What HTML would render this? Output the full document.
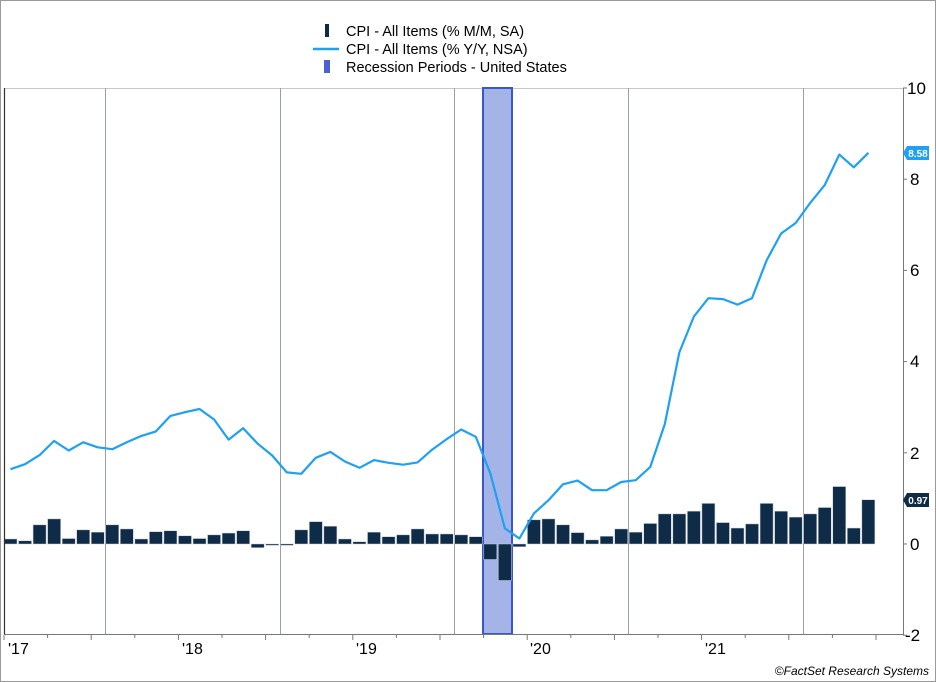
<!DOCTYPE html>
<html><head><meta charset="utf-8"><style>
html,body{margin:0;padding:0;background:#fff;}
svg{display:block;font-family:"Liberation Sans",Arial,sans-serif;}
</style></head><body>
<svg id="c" width="936" height="682" viewBox="0 0 936 682" xmlns="http://www.w3.org/2000/svg">
<rect x="0.5" y="0.5" width="935" height="681" fill="#fff" stroke="#9a9a9a"/>
<line x1="4" y1="88.5" x2="903" y2="88.5" stroke="#c8c8c8"/>
<g id="grid"></g>
<rect x="483" y="88" width="29" height="546" fill="#a5b4e6" stroke="#3a55d0" stroke-width="2"/>
<g id="bars"></g>
<polyline id="line" fill="none" stroke="#1ea0f5" stroke-width="2.2" stroke-linejoin="round"/>
<line x1="4.5" y1="88" x2="4.5" y2="635" stroke="#333" stroke-width="1.2"/>
<line x1="4" y1="634.5" x2="903" y2="634.5" stroke="#777"/>
<line x1="903.5" y1="88" x2="903.5" y2="635" stroke="#777"/>
<g id="ticks"></g>
<g font-size="17" fill="#000">
<text x="907" y="94">10</text>
<text x="910" y="185">8</text>
<text x="910" y="276">6</text>
<text x="910" y="367">4</text>
<text x="910" y="459">2</text>
<text x="910" y="550">0</text>
<text x="905" y="641">-2</text>
</g>
<g font-size="16" fill="#000">
<text x="8" y="654">'17</text>
<text x="182" y="654">'18</text>
<text x="356" y="654">'19</text>
<text x="530" y="654">'20</text>
<text x="705" y="654">'21</text>
</g>
<path d="M903 153 L907 146 H929 V160 H907 Z" fill="#1ea0f5"/>
<text x="918" y="157" font-size="10" font-weight="bold" fill="#fff" text-anchor="middle">8.58</text>
<path d="M903 500 L907 493 H929 V507 H907 Z" fill="#0e2c47"/>
<text x="918" y="504" font-size="10" font-weight="bold" fill="#fff" text-anchor="middle">0.97</text>
<text x="929" y="675" font-size="12" font-style="italic" text-anchor="end" fill="#000">©FactSet Research Systems</text>
<g font-size="14.5" fill="#000">
<rect x="325" y="24" width="4" height="13" fill="#0e2c47"/>
<text x="346" y="36">CPI - All Items (% M/M, SA)</text>
<line x1="313" y1="49" x2="339" y2="49" stroke="#1ea0f5" stroke-width="2.5"/>
<text x="346" y="54">CPI - All Items (% Y/Y, NSA)</text>
<rect x="324" y="60" width="6" height="13" fill="#4a62d6"/>
<text x="346" y="72">Recession Periods - United States</text>
</g>
</svg>
<script>
var bars=[0.11,0.07,0.42,0.55,0.12,0.31,0.26,0.42,0.33,0.11,0.27,0.29,0.18,0.12,0.20,0.24,0.29,-0.08,-0.03,-0.03,0.31,0.49,0.39,0.11,0.05,0.26,0.16,0.2,0.33,0.22,0.22,0.2,0.16,-0.34,-0.80,-0.06,0.53,0.55,0.42,0.25,0.09,0.17,0.33,0.26,0.45,0.66,0.66,0.72,0.89,0.47,0.35,0.44,0.89,0.72,0.59,0.66,0.80,1.26,0.35,0.97];
var yy=[1.64,1.75,1.95,2.26,2.05,2.23,2.12,2.08,2.23,2.37,2.47,2.81,2.89,2.96,2.73,2.29,2.54,2.2,1.94,1.57,1.54,1.89,2.02,1.81,1.67,1.84,1.78,1.74,1.79,2.07,2.30,2.51,2.35,1.55,0.34,0.12,0.67,0.96,1.31,1.39,1.18,1.18,1.36,1.40,1.69,2.63,4.2,4.99,5.39,5.37,5.25,5.39,6.22,6.81,7.04,7.48,7.87,8.54,8.26,8.58];
var NS="http://www.w3.org/2000/svg";
function Y(v){return 544-v*45.6;}
function X(i){return 10.5+14.54*i;}
var g=document.getElementById('bars');
bars.forEach(function(v,i){var r=document.createElementNS(NS,'rect');var y0=Y(0),y1=Y(v);
r.setAttribute('x',X(i)-6.5);r.setAttribute('width',13);r.setAttribute('y',Math.min(y0,y1));r.setAttribute('height',Math.max(1,Math.abs(y1-y0)));
r.setAttribute('fill','#0e2c47');r.setAttribute('stroke','#c9ced6');r.setAttribute('stroke-width','0.5');g.appendChild(r);});
document.getElementById('line').setAttribute('points',yy.map(function(v,i){return X(i).toFixed(1)+','+Y(v).toFixed(1)}).join(' '));
var gr=document.getElementById('grid');
[105,280,454,628,803].forEach(function(x){var l=document.createElementNS(NS,'line');l.setAttribute('x1',x+.5);l.setAttribute('x2',x+.5);l.setAttribute('y1',88);l.setAttribute('y2',634);l.setAttribute('stroke','#9aa0a6');gr.appendChild(l);});
var tk=document.getElementById('ticks');
for(var k=0;k<21;k++){var x=4+k*43.6;var l=document.createElementNS(NS,'line');l.setAttribute('x1',x);l.setAttribute('x2',x);l.setAttribute('y1',635);l.setAttribute('y2',k%2?638:640);l.setAttribute('stroke','#777');tk.appendChild(l);}
[0,2,4,6,8,10,-2].forEach(function(v){var l=document.createElementNS(NS,'line');l.setAttribute('x1',903);l.setAttribute('x2',907);l.setAttribute('y1',Y(v));l.setAttribute('y2',Y(v));l.setAttribute('stroke','#777');tk.appendChild(l);});
</script>
</body></html>
